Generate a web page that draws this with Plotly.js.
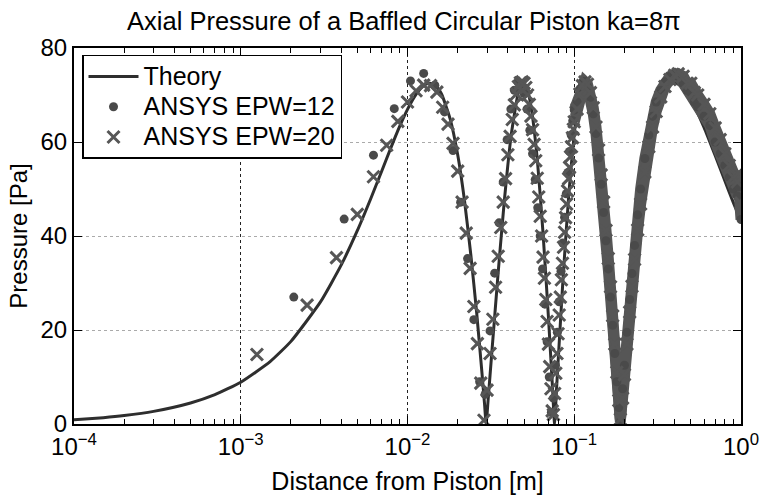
<!DOCTYPE html>
<html><head><meta charset="utf-8">
<script src="https://cdn.plot.ly/plotly-3.0.1.min.js"></script>
<style>html,body{margin:0;padding:0;background:#fff}#chart{width:762px;height:497px}</style>
</head><body><div id="chart"></div>
<script>
// Theory curve
const theoryZ = [1e-4,1.5e-4,2e-4,3e-4,5e-4,7e-4,1e-3,1.5e-3,2e-3,3e-3,4e-3,5e-3,6e-3,7e-3,8e-3,9e-3,1e-2,1.1e-2,1.2e-2,1.3e-2,1.36e-2,1.45e-2,1.5e-2,1.6e-2,1.8e-2,2.0e-2,2.2e-2,2.4e-2,2.6e-2,2.8e-2,2.9e-2,2.963e-2,3.05e-2,3.2e-2,3.5e-2,3.8e-2,4.2e-2,4.6e-2,4.8e-2,4.95e-2,5.2e-2,5.5e-2,6.0e-2,6.5e-2,7.0e-2,7.2e-2,7.4e-2,7.62e-2,7.8e-2,8.0e-2,8.6e-2,9.3e-2,0.1,0.104,0.108,0.112,0.116,0.12,0.125,0.13,0.135,0.14,0.145,0.15,0.155,0.16,0.165,0.17,0.175,0.18,0.185,0.1905,0.195,0.2,0.207,0.215,0.222,0.23,0.24,0.25,0.265,0.28,0.295,0.31,0.33,0.35,0.375,0.38,0.4,0.42,0.45,0.5,0.6,0.7,0.8,0.9,1.0];
const theoryP = [0.90,1.35,1.79,2.69,4.48,6.25,8.90,13.28,17.58,25.92,33.80,41.13,47.83,53.79,59.01,63.42,66.94,69.61,71.40,72.34,72.5,72.17,71.70,70.21,64.98,57.27,47.35,35.86,23.61,10.61,4.10,0,5.56,14.95,32.36,47.16,61.84,70.23,72.08,72.5,71.47,67.67,56.40,40.58,22.81,15.35,7.99,0,6.38,13.24,31.95,49.41,61.75,66.59,69.89,71.79,72.49,72.09,70.29,67.22,63.22,58.45,53.18,47.46,41.45,35.47,29.55,23.31,17.39,11.56,5.94,0,4.65,9.60,16.10,22.94,28.41,34.10,40.42,45.91,52.77,58.21,62.45,65.72,68.83,70.81,72.12,72.27,72.5,72.31,71.45,69.10,63.11,57.12,51.75,47.10,43.10];

// ANSYS EPW=12 (dots)
const epw12Z = [0.00208,0.00417,0.00625,0.00833,0.01042,0.0125,0.01458,0.01667,0.01875,0.02083,0.02292,0.025,0.02708,0.02917,0.03125,0.03333,0.03542,0.0375,0.03958,0.04167,0.04375,0.04583,0.04792,0.05,0.05208,0.05417,0.05625,0.05833,0.06042,0.0625,0.06458,0.06667,0.06875,0.07083,0.07292,0.075,0.07708,0.07917,0.08125,0.08333,0.08542,0.0875,0.08958,0.09167,0.09375,0.09583,0.09792,0.1,
  0.104,0.108,0.112,0.116,0.12,0.125,0.13,0.135,0.14,0.145,0.15,0.155,0.16,0.165,0.17,0.175,0.18,0.185,0.189,0.195,0.2,0.207,0.215,0.222,0.23,0.24,0.25,0.265,0.28,0.295,0.31,0.33,0.35,0.375,0.4,0.42,0.45,0.475,0.5,0.525,0.55,0.6,0.65,0.7,0.75,0.8,0.85,0.9,0.95,0.97,1.0];
const epw12P = [27.0,43.6,57.2,67.1,73.0,74.6,72.1,66.4,58.2,47.2,35.2,22.2,9.0,6.3,19.8,32.1,42.8,51.5,60.5,67.0,71.0,72.8,72.3,70.3,67.0,62.5,57.5,52.0,46.0,40.0,33.0,25.5,17.5,10.0,2.5,5.5,12.5,19.5,26.0,32.5,38.5,44.0,49.0,53.5,58.0,61.5,64.5,66.8,
  68.5,71.3,72.8,72.9,71.8,69.5,66.0,61.8,56.6,51.0,45.0,39.0,33.0,27.0,21.0,15.0,9.0,3.5,0.5,7.5,12.5,19.5,26.5,32.0,38.0,44.5,50.0,56.5,61.5,65.5,68.5,71.0,72.8,74.0,74.5,74.0,72.5,71.0,70.5,68.5,67.5,65.5,63.5,60.0,57.5,55.0,52.5,50.0,48.5,50.5,43.5];

// ANSYS EPW=20 (crosses)
const epw20Z = [0.00125,0.0025,0.00375,0.005,0.00625,0.0075,0.00875,0.01,0.01125,0.0125,0.01375,0.015,0.01625,0.0175,0.01875,0.02,0.02125,0.0225,0.02375,0.025,0.02625,0.0275,0.02875,0.03,0.03125,0.0325,0.03375,0.035,0.03625,0.0375,0.03875,0.04,0.04125,0.0425,0.04375,0.045,0.04625,0.0475,0.04875,0.05,0.05125,0.0525,0.05375,0.055,0.05625,0.0575,0.05875,0.06,0.06125,0.0625,0.06375,0.065,0.06625,0.0675,0.06875,0.07,0.07125,0.0725,0.07375,0.075,0.07625,0.0775,0.07875,0.08,0.08125,0.0825,0.08375,0.085,0.08625,0.0875,0.08875,0.09,0.09125,0.0925,0.09375,0.095,0.09625,0.0975,0.09875,0.1,
  0.104,0.108,0.112,0.116,0.12,0.125,0.13,0.135,0.14,0.145,0.15,0.155,0.16,0.165,0.17,0.175,0.18,0.185,0.189,0.195,0.2,0.207,0.215,0.222,0.23,0.24,0.25,0.265,0.28,0.295,0.31,0.33,0.35,0.375,0.4,0.42,0.45,0.475,0.5,0.525,0.55,0.6,0.65,0.7,0.75,0.8,0.85,0.9,0.95,0.97,1.0];
const epw20P = [14.8,25.3,35.4,44.6,52.6,59.3,64.4,68.5,70.9,72.1,72.0,70.6,67.4,63.8,59.7,53.8,47.2,40.6,33.1,25.0,17.1,8.7,0.8,7.2,15.0,22.3,29.1,35.7,41.8,47.2,52.2,57.3,61.2,64.8,67.9,70.2,71.8,72.6,72.8,72.5,71.6,70.0,68.0,65.5,62.6,59.5,56.0,52.3,48.3,44.2,40.0,35.5,31.0,26.5,21.8,17.0,12.2,7.5,2.8,2.0,6.5,10.8,15.0,19.2,23.2,27.0,30.7,34.2,37.6,40.8,43.9,46.8,49.6,52.2,54.6,56.9,59.0,60.9,62.7,64.3,
  67.0,70.2,72.0,72.8,72.3,70.5,67.3,63.2,58.3,53.0,47.2,41.2,35.2,29.2,23.0,17.0,11.0,5.0,1.0,5.5,10.5,17.0,23.8,29.3,35.0,41.3,46.8,53.6,59.0,63.2,66.5,69.6,71.8,73.3,74.2,74.5,74.0,72.5,72.5,70.5,70.0,68.0,66.0,63.0,60.5,57.5,55.0,52.5,51.5,53.5,47.0];

const xTickVals = [1e-4,1e-3,1e-2,1e-1,1];
const xTickText = ['10<sup>\u22124</sup>','10<sup>\u22123</sup>','10<sup>\u22122</sup>','10<sup>\u22121</sup>','10<sup>0</sup>'];
const yTickVals = [0,20,40,60,80];

const minorVals = [];
for (let e = -4; e < 0; e++) for (let m = 2; m <= 9; m++) minorVals.push(m * Math.pow(10, e));

function sub(z, p, zmin) {
  const zz = [], pp = [];
  z.forEach((v, i) => { if (v >= zmin) { zz.push(v); pp.push(p[i]); } });
  return {zz, pp};
}
const b12 = sub(epw12Z, epw12P, 0.1);
const b20 = sub(epw20Z, epw20P, 0.1);

const FONT = 'Liberation Sans, Arial, Helvetica, sans-serif';
const mcol = '#565656';
const big = s => '<span style="font-size:25px">' + s + '</span>';

const traces = [
  {x: theoryZ, y: theoryP, type: 'scatter', mode: 'lines', name: big('Theory'),
   line: {color: '#2e2e2e', width: 3, shape: 'spline', smoothing: 0.5}},
  {x: b12.zz, y: b12.pp, type: 'scatter', mode: 'lines', showlegend: false, hoverinfo: 'skip',
   line: {color: mcol, width: 11}},
  {x: b20.zz, y: b20.pp, type: 'scatter', mode: 'lines', showlegend: false, hoverinfo: 'skip',
   line: {color: mcol, width: 11}},
  {x: epw12Z, y: epw12P, type: 'scatter', mode: 'markers', name: big('ANSYS EPW=12'),
   marker: {symbol: 'circle', size: 9, color: '#4a4a4a'}},
  {x: epw20Z, y: epw20P, type: 'scatter', mode: 'markers', name: big('ANSYS EPW=20'),
   marker: {symbol: 'x-thin-open', size: 12, color: mcol, line: {color: mcol, width: 3}}}
];

const layout = {
  width: 762, height: 497,
  margin: {l: 74, r: 21, t: 48, b: 73, pad: 0},
  paper_bgcolor: '#fff', plot_bgcolor: '#fff',
  font: {family: FONT, color: '#000', size: 24},
  title: {text: 'Axial Pressure of a Baffled Circular Piston ka=8\u03c0',
          font: {family: FONT, size: 25.5, color: '#000'},
          x: 0.53, xref: 'container', xanchor: 'center', y: 0.958, yref: 'container', yanchor: 'middle'},
  xaxis: {type: 'log', range: [-4, 0], tickmode: 'array', tickvals: xTickVals, ticktext: xTickText,
          ticks: 'inside', ticklen: 8, tickwidth: 1, tickcolor: '#000',
          showline: true, linecolor: '#000', linewidth: 2, mirror: 'allticks',
          showgrid: true, gridcolor: '#222', griddash: 'dot', gridwidth: 1,
          zeroline: false, tickfont: {size: 24, family: FONT},
          minor: {tickmode: 'array', tickvals: minorVals, ticks: 'inside', ticklen: 5, tickwidth: 1, tickcolor: '#000', showgrid: false},
          title: {text: 'Distance from Piston [m]', font: {size: 25, family: FONT}, standoff: 14}},
  yaxis: {range: [0, 80], tickmode: 'array', tickvals: yTickVals,
          ticks: 'inside', ticklen: 8, tickwidth: 1, tickcolor: '#000',
          showline: true, linecolor: '#000', linewidth: 2, mirror: 'allticks',
          showgrid: true, gridcolor: '#aaaaaa', griddash: 'dot', gridwidth: 1,
          zeroline: false, tickfont: {size: 24, family: FONT},
          title: {text: 'Pressure [Pa]', font: {size: 24, family: FONT}, standoff: 6}},
  legend: {x: 0.012, y: 0.982, xanchor: 'left', yanchor: 'top',
           bgcolor: '#fff', bordercolor: '#000', borderwidth: 1.5,
           font: {size: 21, family: FONT}, tracegroupgap: 0, itemwidth: 50},
  showlegend: true
};

Plotly.newPlot('chart', traces, layout, {staticPlot: true, displayModeBar: false});
</script>
</body></html>
